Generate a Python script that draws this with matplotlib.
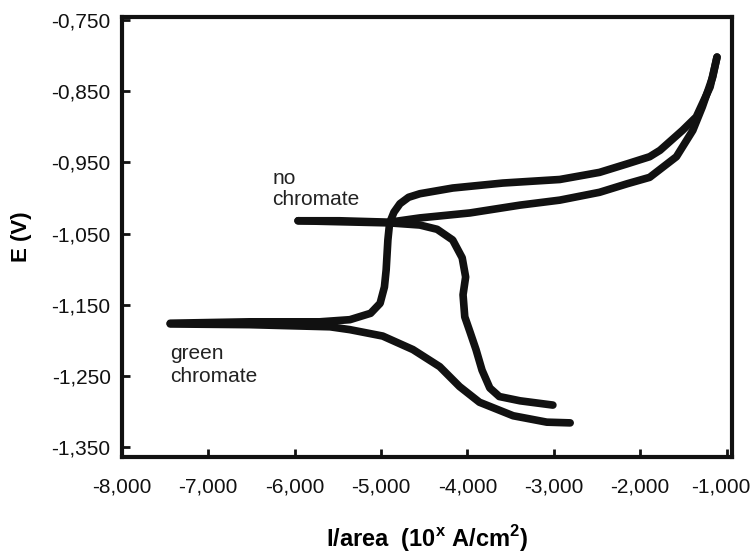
import matplotlib.pyplot as plt
import matplotlib.transforms as mtransforms

# ---------- DATA (log I in decades, E in V) ----------
no_chr_anodic_x = [-5.96, -5.48, -4.90, -4.55, -3.97, -3.39, -2.93, -2.47, -2.15,
                   -1.89, -1.58, -1.39, -1.28, -1.16, -1.11]
no_chr_anodic_y = [-1.032, -1.032, -1.034, -1.028, -1.021, -1.010, -1.003, -0.992,
                   -0.980, -0.971, -0.942, -0.905, -0.872, -0.830, -0.802]

no_chr_cathodic_x = [-5.96, -4.90, -4.55, -4.35, -4.17, -4.06, -4.02, -4.05, -4.03,
                     -3.97, -3.90, -3.83, -3.74, -3.63, -3.39, -3.01]
no_chr_cathodic_y = [-1.032, -1.035, -1.038, -1.044, -1.059, -1.084, -1.111, -1.136,
                     -1.167, -1.188, -1.213, -1.242, -1.267, -1.279, -1.285, -1.291]

green_anodic_x = [-7.44, -6.52, -5.71, -5.36, -5.12, -5.01, -4.96, -4.94, -4.92,
                  -4.90, -4.85, -4.78, -4.68, -4.55, -4.17, -3.59, -2.93, -2.47,
                  -2.15, -1.89, -1.77, -1.51, -1.35, -1.19, -1.11]
green_anodic_y = [-1.176, -1.174, -1.174, -1.171, -1.162, -1.148, -1.125, -1.101,
                  -1.059, -1.035, -1.020, -1.008, -0.999, -0.994, -0.986, -0.979,
                  -0.974, -0.964, -0.952, -0.942, -0.933, -0.905, -0.886, -0.844,
                  -0.802]

green_cathodic_x = [-7.44, -6.52, -5.59, -5.36, -4.98, -4.63, -4.32, -4.09, -3.86,
                    -3.47, -3.08, -2.81]
green_cathodic_y = [-1.177, -1.178, -1.181, -1.185, -1.194, -1.213, -1.237, -1.265,
                    -1.287, -1.306, -1.315, -1.316]

x_ticks = [-8, -7, -6, -5, -4, -3, -2, -1]
x_tick_labels = ["-8,000", "-7,000", "-6,000", "-5,000", "-4,000", "-3,000",
                 "-2,000", "-1,000"]
y_ticks = [-0.75, -0.85, -0.95, -1.05, -1.15, -1.25, -1.35]
y_tick_labels = ["-0,750", "-0,850", "-0,950", "-1,050", "-1,150", "-1,250", "-1,350"]

# ---------- STYLE ----------
plt.rcParams["font.family"] = ["Liberation Sans", "DejaVu Sans"]
plt.rcParams["mathtext.fontset"] = "custom"
plt.rcParams["mathtext.bf"] = "Liberation Sans:bold"
plt.rcParams["mathtext.rm"] = "Liberation Sans:bold"

LINE = dict(color="#111111", lw=5.5, solid_capstyle="round", solid_joinstyle="round")

fig = plt.figure(figsize=(7.52, 5.56), dpi=100)
ax = fig.add_axes([0.162, 0.178, 0.811, 0.791])

ax.plot(no_chr_anodic_x, no_chr_anodic_y, **LINE)
ax.plot(no_chr_cathodic_x, no_chr_cathodic_y, **LINE)
ax.plot(green_anodic_x, green_anodic_y, **LINE)
ax.plot(green_cathodic_x, green_cathodic_y, **LINE)

ax.text(-6.26, -0.987, "no\nchromate", fontsize=15, ha="left", va="center",
        linespacing=1.15, color="#222222")
ax.text(-7.44, -1.235, "green\nchromate", fontsize=15, ha="left", va="center",
        linespacing=1.25, color="#222222")

ax.set_xlim(-8, -0.94)
ax.set_ylim(-1.364, -0.746)
ax.set_xticks(x_ticks)
ax.set_xticklabels(x_tick_labels)
ax.set_yticks(y_ticks)
ax.set_yticklabels(y_tick_labels)
ax.tick_params(axis="x", direction="in", length=6, width=2, pad=15,
               labelsize=15, colors="#111111", top=False)
ax.tick_params(axis="y", direction="in", length=6, width=2, pad=8,
               labelsize=15, colors="#111111", right=False)
for s in ax.spines.values():
    s.set_linewidth(3)
    s.set_color("#111111")

# last x label sits flush with the right edge in the original
last = ax.get_xticklabels()[-1]
last.set_transform(last.get_transform() +
                   mtransforms.ScaledTranslation(-6 / 100, 0, fig.dpi_scale_trans))

ax.set_ylabel("E (V)", fontsize=16, fontweight="bold", labelpad=14)
ax.set_xlabel(r"I/area  (10$^\mathbf{x}$ A/cm$^\mathbf{2}$)", fontsize=17,
              fontweight="bold", labelpad=19)

fig.savefig("out.png", dpi=100)
